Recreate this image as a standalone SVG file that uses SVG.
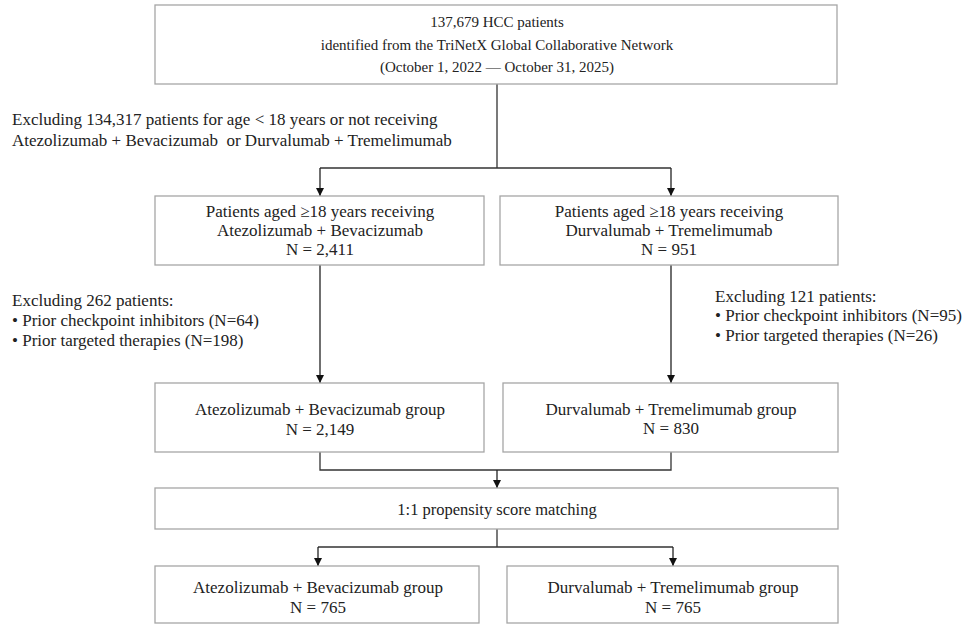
<svg xmlns="http://www.w3.org/2000/svg" width="964" height="624" viewBox="0 0 964 624">
<defs>
<marker id="ah" viewBox="0 0 10 10" refX="10" refY="5" markerWidth="8" markerHeight="8" markerUnits="userSpaceOnUse" orient="auto">
<path d="M0,0 L10,5 L0,10 z" fill="#111"/>
</marker>
<style>
.box{fill:#fff;stroke:#a6a6a6;stroke-width:1.3}
.t{font-family:"Liberation Serif","Times New Roman",serif;font-size:17px;fill:#222}
.s{font-size:15px}
.m{font-size:16.5px}
.c{text-anchor:middle}
.ln{fill:none;stroke:#333;stroke-width:1.3}
.ar{fill:none;stroke:#222;stroke-width:1.3;marker-end:url(#ah)}
</style>
</defs>
<rect width="964" height="624" fill="#fff"/>
<g id="connectors">
<path class="ln" d="M497,84 V168 M320,168 H671"/>
<path class="ar" d="M320,168 V196"/>
<path class="ar" d="M671,168 V196"/>
<path class="ar" d="M320,265 V383"/>
<path class="ar" d="M671,265 V383"/>
<path class="ln" d="M320,452 V470 H671 V452"/>
<path class="ar" d="M497,470 V488"/>
<path class="ln" d="M497,529 V547 M318,547 H673"/>
<path class="ar" d="M318,547 V566"/>
<path class="ar" d="M673,547 V566"/>
</g>
<g id="n-top">
<rect class="box" x="155" y="5" width="682" height="79"/>
<text class="t s c" x="497" y="27">137,679 HCC patients</text>
<text class="t s c" x="497" y="50">identified from the TriNetX Global Collaborative Network</text>
<text class="t s c" x="497" y="72">(October 1, 2022 — October 31, 2025)</text>
</g>
<g id="n-excl1">
<text class="t" x="12" y="125">Excluding 134,317 patients for age &lt; 18 years or not receiving</text>
<text class="t" x="12" y="146" xml:space="preserve">Atezolizumab + Bevacizumab  or Durvalumab + Tremelimumab</text>
</g>
<g id="n-ab-all">
<rect class="box" x="155" y="196" width="329" height="69"/>
<text class="t c" x="320" y="217">Patients aged ≥18 years receiving</text>
<text class="t c" x="320" y="236">Atezolizumab + Bevacizumab</text>
<text class="t c" x="320" y="255">N = 2,411</text>
</g>
<g id="n-dt-all">
<rect class="box" x="500" y="196" width="338" height="69"/>
<text class="t c" x="669" y="217">Patients aged ≥18 years receiving</text>
<text class="t c" x="669" y="236">Durvalumab + Tremelimumab</text>
<text class="t c" x="669" y="255">N = 951</text>
</g>
<g id="n-excl-ab">
<text class="t" x="12" y="306">Excluding 262 patients:</text>
<text class="t" x="12" y="326">• Prior checkpoint inhibitors (N=64)</text>
<text class="t" x="12" y="346">• Prior targeted therapies (N=198)</text>
</g>
<g id="n-excl-dt">
<text class="t" x="715" y="302">Excluding 121 patients:</text>
<text class="t" x="715" y="321">• Prior checkpoint inhibitors (N=95)</text>
<text class="t" x="715" y="341">• Prior targeted therapies (N=26)</text>
</g>
<g id="n-ab-grp">
<rect class="box" x="155" y="383" width="329" height="69"/>
<text class="t c" x="320" y="415">Atezolizumab + Bevacizumab group</text>
<text class="t c" x="320" y="435">N = 2,149</text>
</g>
<g id="n-dt-grp">
<rect class="box" x="503" y="383" width="335" height="69"/>
<text class="t c" x="671" y="415">Durvalumab + Tremelimumab group</text>
<text class="t c" x="671" y="434">N = 830</text>
</g>
<g id="n-psm">
<rect class="box" x="155" y="488" width="683" height="41"/>
<text class="t m c" x="497" y="515">1:1 propensity score matching</text>
</g>
<g id="n-ab-psm">
<rect class="box" x="155" y="566" width="324" height="57"/>
<text class="t c" x="318" y="593">Atezolizumab + Bevacizumab group</text>
<text class="t c" x="318" y="613">N = 765</text>
</g>
<g id="n-dt-psm">
<rect class="box" x="507" y="566" width="331" height="57"/>
<text class="t c" x="673" y="593">Durvalumab + Tremelimumab group</text>
<text class="t c" x="673" y="613">N = 765</text>
</g>
</svg>
